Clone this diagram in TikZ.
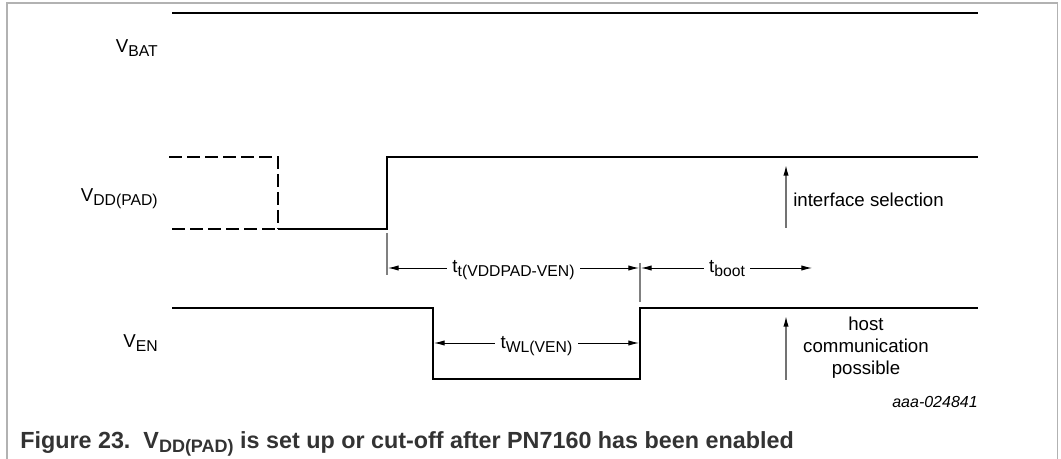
\documentclass[tikz,border=0pt]{standalone}
\usepackage{fontspec}
\setmainfont{Liberation Sans}
\usetikzlibrary{arrows.meta}
\newcommand{\sbs}[1]{\raisebox{-0.33ex}{\fontsize{11.8pt}{13pt}\selectfont #1}}
\begin{document}
\begin{tikzpicture}[x=0.75pt,y=-0.75pt,
  sig/.style={line width=2.2pt,line cap=butt,line join=miter},
  dsig/.style={sig,dash pattern=on 9.5pt off 4pt},
  tick/.style={line width=0.8pt,draw=black!50},
  dim/.style={line width=0.7pt,{Latex[length=8pt,width=4pt]}-{Latex[length=8pt,width=4pt]}},
  up/.style={line width=1pt,draw=black!55,-{Latex[length=8pt,width=4pt,color=black]}},
  lab/.style={font=\fontsize{14pt}{16pt}\selectfont,inner sep=0pt},
  dlab/.style={lab,fill=white,inner xsep=4pt,inner ysep=1pt}]
\useasboundingbox (0,0) rectangle (1061,459);
% frame
\draw[line width=1.1pt,draw=black!30] (7,459) -- (7,3) -- (1057.5,3) -- (1057.5,459);
% VBAT
\draw[sig] (172,13) -- (978,13);
\node[lab,anchor=base east] (lbat) at (158,53) {V\sbs{BAT}};
% VDD(PAD)
\draw[dsig] (169,157) -- (278,157) -- (278,229);
\draw[dsig] (172,229) -- (278,229);
\draw[sig] (278,229) -- (387,229) -- (387,157) -- (978,157);
\node[lab,anchor=base east] (lpad) at (158,202) {V\sbs{DD(PAD)}};
% VEN
\draw[sig] (172,308) -- (433,308) -- (433,379) -- (640,379) -- (640,308) -- (978,308);
\node[lab,anchor=base east] (len) at (158,348) {V\sbs{EN}};
% ticks
\coordinate (t1a) at (387,233); \coordinate (t1b) at (387,275);
\coordinate (t2a) at (640,263); \coordinate (t2b) at (640,302);
\draw[tick] (t1a) -- (t1b);
\draw[tick] (t2a) -- (t2b);
% dimension arrows
\coordinate (d1) at (388,268); \coordinate (d2) at (639,268);
\coordinate (d3) at (641,268); \coordinate (d4) at (812,268);
\coordinate (w1) at (434,343); \coordinate (w2) at (639,343);
\draw[dim] (d1) -- (d2);
\draw[dim] (d3) -- (d4);
\draw[dim] (w1) -- (w2);
\node[dlab,anchor=base] (ltt) at (513.5,273) {t\sbs{t(VDDPAD-VEN)}};
\node[dlab,anchor=base] (lboot) at (727,273) {t\sbs{boot}};
\node[dlab,anchor=base] (lwl) at (536.5,349) {t\sbs{WL(VEN)}};
% up arrows
\coordinate (u1a) at (786,228); \coordinate (u1b) at (786,165);
\coordinate (u2a) at (786,380); \coordinate (u2b) at (786,316);
\draw[up] (u1a) -- (u1b);
\draw[up] (u2a) -- (u2b);
\node[lab,anchor=base west] (lif) at (793,207) {interface selection};
\node[lab,anchor=base] (lh1) at (866,331) {host};
\node[lab,anchor=base] (lh2) at (866,353) {communication};
\node[lab,anchor=base] (lh3) at (866,375) {possible};
\node[inner sep=0pt,anchor=base east,font=\fontsize{12pt}{13pt}\selectfont\itshape] (lid) at (978,408) {aaa-024841};
% caption
\node[inner sep=0pt,anchor=base west,text=black!80,font=\fontsize{17.5pt}{20pt}\selectfont\bfseries] (cap) at (20,449)
  {Figure 23.\ \ V\raisebox{-0.3ex}{\fontsize{13.5pt}{15pt}\selectfont DD(PAD)} is set up or cut-off after PN7160 has been enabled};
\end{tikzpicture}
\end{document}
